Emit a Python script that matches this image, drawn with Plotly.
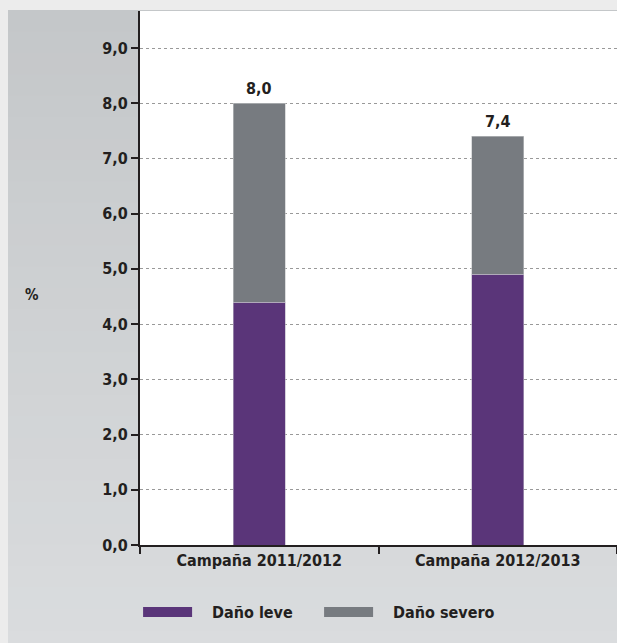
import plotly.graph_objects as go

categories = ["Campaña 2011/2012", "Campaña 2012/2013"]
dano_leve = [4.4, 4.9]
dano_severo = [3.6, 2.5]
series_names = ["Daño leve", "Daño severo"]
totals = [round(a + b, 1) for a, b in zip(dano_leve, dano_severo)]
total_labels = [f"{t:.1f}".replace(".", ",") for t in totals]
ytick_vals = [0, 1, 2, 3, 4, 5, 6, 7, 8, 9]

PURPLE = "#5a3579"
GRAY = "#777b80"
DARK = "#231f20"
FONT = "DejaVu Sans Condensed"
PAD = "\u00a0\u00a0\u00a0"

fig = go.Figure()
fig.add_bar(x=categories, y=dano_leve, name=series_names[0],
            marker=dict(color=PURPLE, line=dict(width=0.6, color="#b9b3c4")),
            width=0.22, showlegend=False)
fig.add_bar(x=categories, y=dano_severo, name=series_names[1],
            marker=dict(color=GRAY, line=dict(width=0.6, color="#c4c6c8")),
            width=0.22, showlegend=False)
# legend swatches
fig.add_scatter(x=[None], y=[None], mode="lines", name=PAD + series_names[0],
                line=dict(color=PURPLE, width=16))
fig.add_scatter(x=[None], y=[None], mode="lines", name=PAD + series_names[1],
                line=dict(color=GRAY, width=16))

for c, t, lab in zip(categories, totals, total_labels):
    fig.add_annotation(x=c, y=t, text=f"<b>{lab}</b>", showarrow=False, yanchor="bottom", yshift=3,
                       font=dict(family=FONT, size=16, color=DARK))

fig.add_annotation(x=-0.226, y=0.468, xref="paper", yref="paper", text="<b>%</b>", showarrow=False,
                   xanchor="center", yanchor="middle",
                   font=dict(family=FONT, size=15, color=DARK))

# panel background (soft vertical gradient) and white plotting area
top_rgb = (196, 199, 201)
bot_rgb = (218, 220, 222)
n_bands = 30
y_top, y_bot = 1.0019, -0.2
for i in range(n_bands):
    f = i / (n_bands - 1)
    col = "rgb({},{},{})".format(*[round(a + (b - a) * f) for a, b in zip(top_rgb, bot_rgb)])
    y1 = y_top + (y_bot - y_top) * i / n_bands
    y0 = y_top + (y_bot - y_top) * (i + 1) / n_bands
    fig.add_shape(type="rect", xref="paper", yref="paper", x0=-0.2767, x1=1.02, y0=y0 - 0.002, y1=y1,
                  fillcolor=col, line=dict(width=0), layer="below")
fig.add_shape(type="rect", xref="paper", yref="paper", x0=0, x1=1.02, y0=0, y1=1.0,
              fillcolor="white", line=dict(width=0), layer="below")

fig.update_layout(
    width=617, height=643,
    margin=dict(l=140, r=0, t=11, b=98),
    paper_bgcolor="#ececec",
    plot_bgcolor="white",
    barmode="stack",
    separators=",.",
    font=dict(family=FONT, color=DARK, size=14),
    showlegend=True,
    legend=dict(orientation="h", x=-0.004, xanchor="left", y=-0.1255, yanchor="middle",
                traceorder="normal", entrywidth=117, entrywidthmode="pixels",
                font=dict(family=FONT, size=16, color=DARK, weight="bold"),
                bgcolor="rgba(0,0,0,0)", itemwidth=49, tracegroupgap=0),
    xaxis=dict(
        type="category", range=[-0.5, 1.5], tickson="boundaries",
        ticks="outside", ticklen=7, tickwidth=2, tickcolor=DARK,
        showline=True, linecolor=DARK, linewidth=2, showgrid=False,
        tickfont=dict(family=FONT, size=16, color=DARK, weight="bold"),
    ),
    yaxis=dict(
        range=[0, 9.67], tickvals=ytick_vals, tickformat=".1f",
        ticks="outside", ticklen=7, tickwidth=2, tickcolor=DARK,
        showline=True, linecolor=DARK, linewidth=2,
        showgrid=True, gridcolor="#999999", griddash="dot", gridwidth=1,
        zeroline=False,
        tickfont=dict(family=FONT, size=16, color=DARK, weight="bold"),
    ),
)

fig.write_html("out.html", config={"displayModeBar": False},
               post_script="document.body.style.margin='0';document.body.style.overflow='hidden';"
                           "document.body.style.background='#ececec';")
